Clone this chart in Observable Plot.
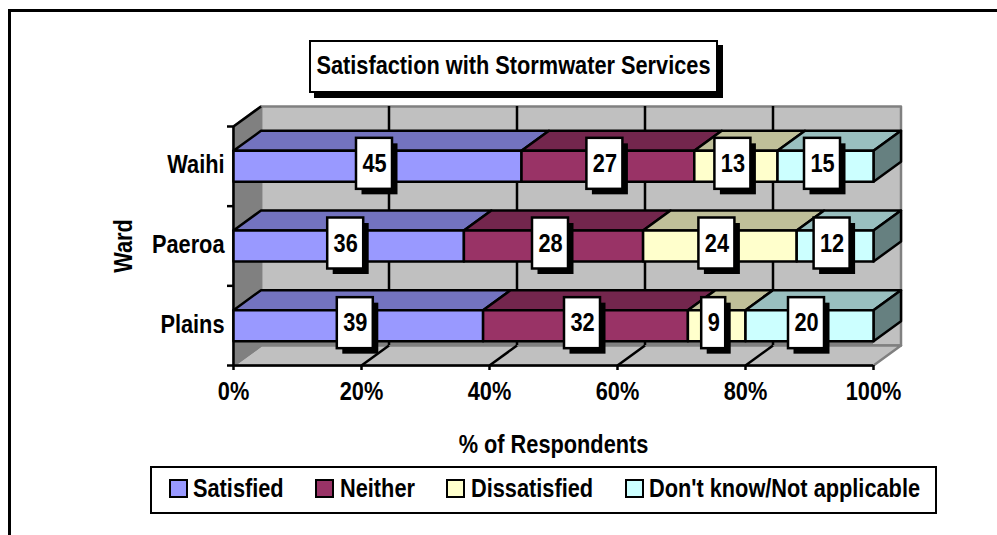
<!DOCTYPE html>
<html>
<head>
<meta charset="utf-8">
<script src="https://cdn.jsdelivr.net/npm/d3@7"></script>
<script src="https://cdn.jsdelivr.net/npm/@observablehq/plot@0.6"></script>
<style>
html,body{margin:0;padding:0;background:#fff;overflow:hidden;width:997px;height:535px}
body{position:relative;font-family:"Liberation Sans",Arial,sans-serif;font-weight:bold;font-size:25px;color:#000}
#chart{position:absolute;left:0;top:0}
#frame{position:absolute;left:8px;top:9px;width:1000px;height:600px;border-top:3px solid #000;border-left:3px solid #000}
#title{position:absolute;left:309px;top:40px;width:405px;height:49px;border:2px solid #000;background:#fff;box-shadow:5px 5px 0 #000;line-height:47px;text-align:center;white-space:nowrap}
#title span{display:inline-block;transform:scaleX(.87);transform-origin:center;margin:0 -40px}
#legend{position:absolute;left:150px;top:466px;width:783px;height:44px;border:2px solid #000;background:#fff}
.sw{position:absolute;top:11px;width:15px;height:15px;border:2px solid #000}
.lb{position:absolute;top:0;line-height:41px;white-space:nowrap;transform:scaleX(.87);transform-origin:left center}
</style>
</head>
<body>
<div id="frame"></div>
<div id="chart"></div>
<div id="title"><span></span></div>
<div id="legend"></div>
<script>
const titleText = "Satisfaction with Stormwater Services";
const wards = ["Plains", "Paeroa", "Waihi"];
const seriesNames = ["Satisfied", "Neither", "Dissatisfied", "Don't know/Not applicable"];
const satisfied = [39, 36, 45];
const neither = [32, 28, 27];
const dissatisfied = [9, 24, 13];
const dontKnow = [20, 12, 15];
const frontColors = ["#9999FF", "#993366", "#FFFFCC", "#CCFFFF"];
const topColors = ["#7373BF", "#73264D", "#BFBF99", "#99BFBF"];
const sideColor = "#668080";
const xTicks = [0, 20, 40, 60, 80, 100];
const legendSwatchLeft = [167, 313, 444, 623];
const legendTextLeft = [41, 188, 319, 497];
const textSqueeze = 0.87;

// scale units per pixel
const pxX = 100 / 640, pxY = 3 / 239;
const depthX = 27.5 * pxX, depthY = 20 * pxY;
const barHalf = 15.5 * pxY;

const series = [satisfied, neither, dissatisfied, dontKnow];

const poly = (id, fill, stroke, pts) => pts.map(([x, y]) => ({id, fill, stroke, x, y}));

const wall = [
  ...poly("back", "#C0C0C0", "#808080", [[depthX, depthY], [100 + depthX, depthY], [100 + depthX, 3 + depthY], [depthX, 3 + depthY]]),
  ...poly("floor", "#C0C0C0", "#808080", [[0, 0], [100, 0], [100 + depthX, depthY], [depthX, depthY]]),
  ...poly("left", "#808080", "#808080", [[0, 0], [depthX, depthY], [depthX, 3 + depthY], [0, 3]])
];

const bars = [];
const labels = [];
for (let r = wards.length - 1; r >= 0; r--) {
  const c = r + 0.5;
  let acc = 0;
  series.forEach((s, k) => {
    const v = s[r], a = acc, b = acc + v;
    bars.push(...poly(`t${r}${k}`, topColors[k], "#000", [[a, c + barHalf], [b, c + barHalf], [b + depthX, c + barHalf + depthY], [a + depthX, c + barHalf + depthY]]));
    labels.push({v, x: a + v / 2, y: c, hw: (String(v).length * 6 + 6) * pxX});
    acc = b;
  });
  bars.push(...poly(`s${r}`, sideColor, "#000", [[100, c - barHalf], [100 + depthX, c - barHalf + depthY], [100 + depthX, c + barHalf + depthY], [100, c + barHalf]]));
  acc = 0;
  series.forEach((s, k) => {
    const v = s[r], a = acc, b = acc + v;
    bars.push(...poly(`f${r}${k}`, frontColors[k], "#000", [[a, c - barHalf], [b, c - barHalf], [b, c + barHalf], [a, c + barHalf]]));
    acc = b;
  });
}

const lineOpts = {x: "x", y: "y", z: "id", fill: "fill", stroke: "stroke", strokeWidth: 2.5, curve: "linear-closed"};
const boxH = 25.5 * pxY;
const boxRect = {x1: d => d.x - d.hw, x2: d => d.x + d.hw, y1: d => d.y - boxH, y2: d => d.y + boxH};

const plot = Plot.plot({
  width: 997,
  height: 535,
  marginLeft: 233,
  marginRight: 124,
  marginTop: 126,
  marginBottom: 170,
  x: {domain: [0, 100]},
  y: {domain: [0, 3]},
  color: {type: "identity"},
  style: {fontFamily: '"Liberation Sans",Arial,sans-serif', fontSize: "25px", fontWeight: "bold", color: "#000", background: "transparent", overflow: "visible"},
  marks: [
    Plot.line(wall, lineOpts),
    Plot.rect([0], {x1: depthX, x2: 100, y1: depthY - 0.5 * pxY, y2: depthY + 4 * pxY, fill: "#808080"}),
    Plot.ruleX(xTicks.slice(1, -1), {x: d => d + depthX, y1: depthY, y2: 3 + depthY, stroke: "#000", strokeWidth: 2.5}),
    Plot.link(xTicks.slice(1, -1), {x1: d => d, y1: 0, x2: d => d + depthX, y2: depthY, stroke: "#000", strokeWidth: 2.5}),
    Plot.link([0], {x1: 0, y1: 3, x2: depthX, y2: 3 + depthY, stroke: "#000", strokeWidth: 2.5}),
    Plot.ruleX([0], {y1: 0, y2: 3, stroke: "#000", strokeWidth: 2.5}),
    Plot.ruleY([0], {x1: 0, x2: 100, stroke: "#000", strokeWidth: 2.5}),
    Plot.line(bars, lineOpts),
    Plot.rect(labels, {...boxRect, fill: "#000", dx: 2.5, dy: 3}),
    Plot.rect(labels, {...boxRect, fill: "#fff", stroke: "#000", strokeWidth: 2.5, dx: -3, dy: -2.5}),
    Plot.text(labels, {x: "x", y: "y", text: d => String(d.v), fill: "#000", dx: -3, dy: -2.5}),
    Plot.axisX({ticks: xTicks, tickFormat: d => d + "%", tickSize: 5, tickPadding: 12, strokeWidth: 2.5, label: "% of Respondents", labelAnchor: "center", labelOffset: 87, labelArrow: "none"}),
    Plot.axisY({ticks: [0, 1, 2, 3], tickFormat: () => "", tickSize: 6, strokeWidth: 2.5, label: "Ward", labelAnchor: "center", labelOffset: 119, labelArrow: "none"}),
    Plot.text(wards, {x: 0, y: (d, i) => i + 0.5, text: d => d, textAnchor: "end", dx: -9, dy: -1, fill: "#000"})
  ]
});
document.getElementById("chart").appendChild(plot);
plot.querySelectorAll("text").forEach(t => {
  const len = t.getComputedTextLength();
  if (len > 0) {
    t.setAttribute("textLength", len * textSqueeze);
    t.setAttribute("lengthAdjust", "spacingAndGlyphs");
  }
});
document.querySelector("#title span").textContent = titleText;
const legend = document.getElementById("legend");
seriesNames.forEach((name, i) => {
  const sw = document.createElement("div");
  sw.className = "sw";
  sw.style.left = (legendSwatchLeft[i] - 150) + "px";
  sw.style.background = frontColors[i];
  legend.appendChild(sw);
  const lb = document.createElement("div");
  lb.className = "lb";
  lb.style.left = legendTextLeft[i] + "px";
  lb.textContent = name;
  legend.appendChild(lb);
});
</script>
</body>
</html>
